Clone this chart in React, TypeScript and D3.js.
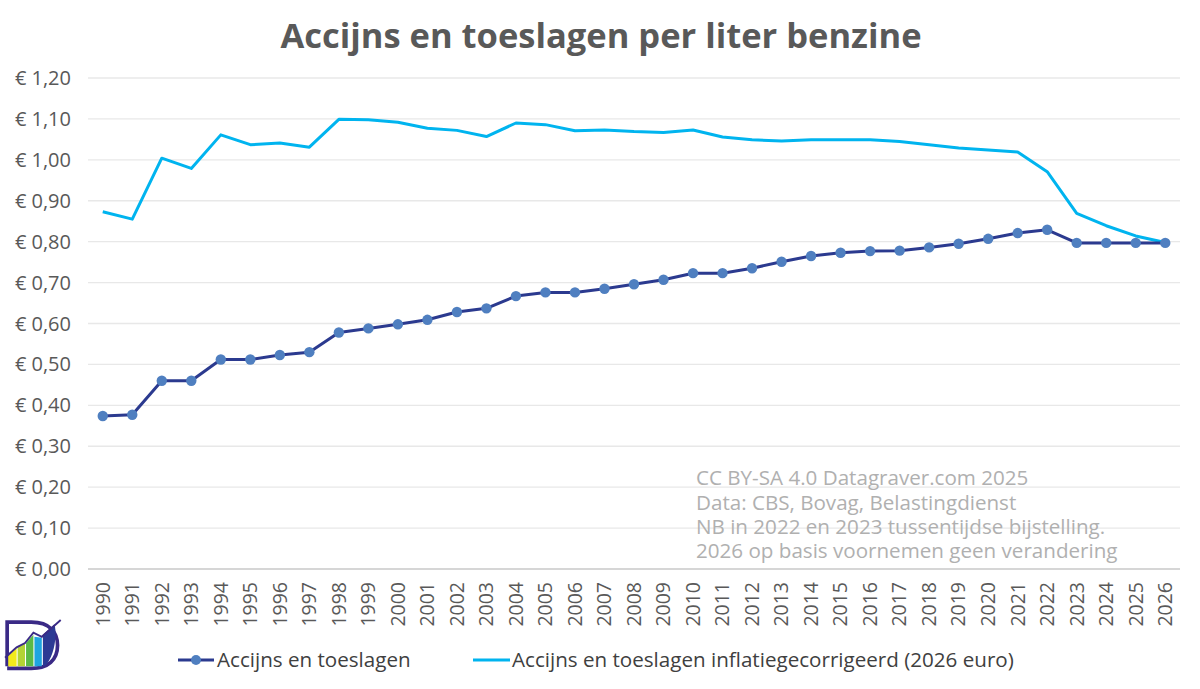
import React from 'react';
import * as d3 from 'd3';

const years = d3.range(1990, 2027).map(String);

// nominal excise + surcharges per liter (euro)
const accijns = [
  0.374, 0.377, 0.46, 0.46, 0.512, 0.512, 0.523, 0.53, 0.578, 0.588, 0.598, 0.609, 0.628, 0.637,
  0.667, 0.676, 0.676, 0.685, 0.696, 0.707, 0.723, 0.723, 0.735, 0.751, 0.765, 0.773, 0.777,
  0.778, 0.786, 0.795, 0.807, 0.821, 0.829, 0.797, 0.797, 0.797, 0.797,
];

// inflation corrected (2026 euro)
const accijnsReeel = [
  0.873, 0.855, 1.004, 0.979, 1.061, 1.037, 1.041, 1.031, 1.099, 1.098, 1.092, 1.077, 1.072,
  1.057, 1.09, 1.086, 1.071, 1.073, 1.069, 1.067, 1.073, 1.056, 1.049, 1.046, 1.049, 1.049,
  1.049, 1.045, 1.037, 1.029, 1.024, 1.019, 0.971, 0.869, 0.839, 0.814, 0.798,
];

const yTicks = [0, 0.1, 0.2, 0.3, 0.4, 0.5, 0.6, 0.7, 0.8, 0.9, 1.0, 1.1, 1.2];

const notes = [
  'CC BY-SA 4.0 Datagraver.com 2025',
  'Data: CBS, Bovag, Belastingdienst',
  'NB in 2022 en 2023 tussentijdse bijstelling.',
  '2026 op basis voornemen geen verandering',
];

const legendNames = ['Accijns en toeslagen', 'Accijns en toeslagen inflatiegecorrigeerd (2026 euro)'];

const W = 1200;
const H = 689;
const FONT = "'Open Sans', 'Noto Sans', sans-serif";

const DARK = '#2b3a8f';
const MARKER = '#4f7fc0';
const LIGHT = '#00b4ef';

const fmt = (v: number) => '€ ' + v.toFixed(2).replace('.', ',');

const App: React.FC = () => {
  const x = d3.scaleBand<string>().domain(years).range([88, 1180]).padding(0);
  const y = d3.scaleLinear().domain([0, 1.2]).range([569, 78]);
  const cx = (i: number) => (x(years[i]) || 0) + x.bandwidth() / 2;

  const line = d3
    .line<number>()
    .x((_, i) => cx(i))
    .y((d) => y(d));

  return (
    <svg
      width={W}
      height={H}
      style={{ position: 'absolute', left: 0, top: 0, background: '#fff' }}
      fontFamily={FONT}
    >
      <text x={601} y={48} textAnchor="middle" fontSize={34.5} fontWeight={700} fill="#595959">
        Accijns en toeslagen per liter benzine
      </text>

      {yTicks.map((t) => (
        <g key={t}>
          {t > 0 && <line x1={88} x2={1180} y1={y(t)} y2={y(t)} stroke="#e8e8e8" strokeWidth={1.3} />}
          <text x={71} y={y(t)} dy="0.35em" textAnchor="end" fontSize={20} fill="#595959">
            {fmt(t)}
          </text>
        </g>
      ))}

      {notes.map((n, i) => (
        <text key={n} x={696} y={478 + i * 24.4} dy="0.35em" fontSize={20.6} fill="#b0b0b0">
          {n}
        </text>
      ))}

      <line x1={88} x2={1180} y1={y(0)} y2={y(0)} stroke="#c8c8c8" strokeWidth={1.6} />

      {years.map((yr, i) => (
        <text
          key={yr}
          transform={`translate(${cx(i)},${582}) rotate(-90)`}
          dy="0.35em"
          textAnchor="end"
          fontSize={19.5}
          fill="#595959"
        >
          {yr}
        </text>
      ))}

      <path d={line(accijnsReeel) || ''} fill="none" stroke={LIGHT} strokeWidth={3} strokeLinejoin="round" />
      <path d={line(accijns) || ''} fill="none" stroke={DARK} strokeWidth={3} strokeLinejoin="round" />
      {accijns.map((v, i) => (
        <circle key={i} cx={cx(i)} cy={y(v)} r={5.2} fill={MARKER} />
      ))}

      {/* legend */}
      <g fontSize={20.6} fill="#404040">
        <line x1={178} x2={214} y1={660} y2={660} stroke={DARK} strokeWidth={3} />
        <circle cx={196} cy={660} r={5} fill={MARKER} />
        <text x={217} y={660} dy="0.35em">
          {legendNames[0]}
        </text>
        <line x1={473} x2={510} y1={660} y2={660} stroke={LIGHT} strokeWidth={3} />
        <text x={512} y={660} dy="0.35em">
          {legendNames[1]}
        </text>
      </g>

      {/* logo */}
      <g transform="translate(4,620) scale(1.05)">
        <path d="M3,44 L3,2 L26,2 C44,2 51,12 51,24 C51,38 42,46 26,46 L3,46" fill="none" stroke="#3a2a86" strokeWidth={3.5} />
        <path d="M4,44 L4,34 L12,27 L12,44 Z" fill="#f2ea1c" />
        <path d="M13,44 L13,26 L20,22 L20,44 Z" fill="#b3d335" />
        <path d="M21,44 L21,22 L28,14 L28,44 Z" fill="#5ab946" />
        <path d="M29,44 L29,16 L36,17 L36,44 Z" fill="#1ea5e0" />
        <path d="M37,44 L37,14 L48,4 C50,10 50,30 40,43 Z" fill="#2c3a94" />
        <path d="M1,36 L12,26 L20,22 L28,12 L36,16 L54,0" fill="none" stroke="#3a2a86" strokeWidth={1.8} />
      </g>
    </svg>
  );
};

export default App;
